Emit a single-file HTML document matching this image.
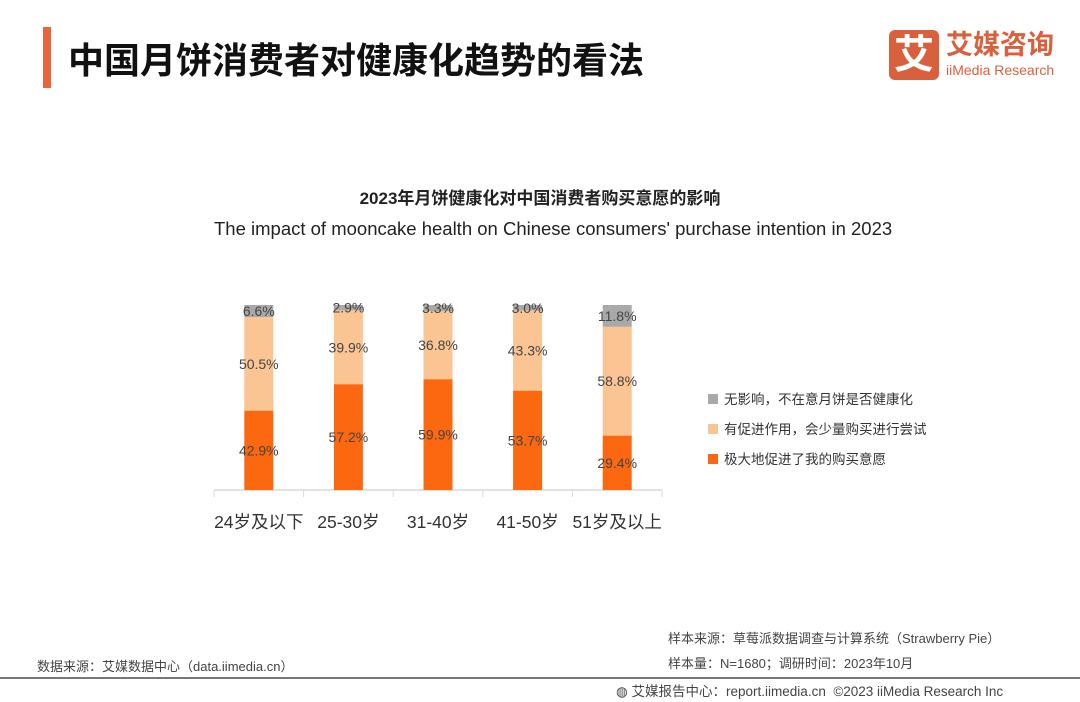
<!DOCTYPE html>
<html><head><meta charset="utf-8"><style>
body{margin:0;width:1080px;height:702px;background:#fff;overflow:hidden;font-family:"Liberation Sans","Noto Sans CJK SC",sans-serif;position:relative}
.abs{position:absolute;white-space:nowrap}
</style></head><body>
<div class="abs" style="left:43px;top:27px;width:8px;height:61px;background:#e8643a"></div>
<div class="abs" style="left:68px;top:32px;font-size:36px;font-weight:bold;color:#111">中国月饼消费者对健康化趋势的看法</div>
<div class="abs" style="left:889px;top:30px;width:50px;height:50px;background:#d9603c;border-radius:6px;color:#fff;font-size:40px;font-weight:bold;text-align:center;line-height:50px">艾</div>
<div class="abs" style="left:946px;top:30px;font-size:27px;font-weight:bold;color:#d9603c;line-height:30px">艾媒咨询</div>
<div class="abs" style="left:946px;top:62px;font-size:14px;color:#d9603c">iiMedia Research</div>
<div class="abs" style="left:0;width:1080px;text-align:center;top:184px;font-size:17px;font-weight:bold;color:#222">2023年月饼健康化对中国消费者购买意愿的影响</div>
<div class="abs" style="left:214px;top:218px;font-size:18.5px;color:#222">The impact of mooncake health on Chinese consumers' purchase intention in 2023</div>
<svg id="chart" class="abs" style="left:0;top:0" width="1080" height="702"></svg>
<div class="abs" style="left:37px;top:656px;font-size:13px;color:#444">数据来源：艾媒数据中心（data.iimedia.cn）</div>
<div class="abs" style="left:668px;top:628px;font-size:13px;color:#444">样本来源：草莓派数据调查与计算系统（Strawberry Pie）</div>
<div class="abs" style="left:668px;top:653px;font-size:13px;color:#444">样本量：N=1680；调研时间：2023年10月</div>
<div class="abs" style="left:0;top:677px;width:1080px;height:2px;background:#777"></div>
<div class="abs" style="left:616px;top:680px;font-size:13.5px;color:#444">◍ 艾媒报告中心：report.iimedia.cn &nbsp;©2023 iiMedia Research Inc</div>
<script>
const categories=["24岁及以下","25-30岁","31-40岁","41-50岁","51岁及以上"];
const greatly=[42.9,57.2,59.9,53.7,29.4];
const somewhat=[50.5,39.9,36.8,43.3,58.8];
const noEffect=[6.6,2.9,3.3,3.0,11.8];
const seriesNames=["无影响，不在意月饼是否健康化","有促进作用，会少量购买进行尝试","极大地促进了我的购买意愿"];
const colors=["#a9a9a9","#fbc593","#fb680f"];
const svg=document.getElementById('chart');const NS='http://www.w3.org/2000/svg';
const x0=214,band=89.6,barW=29,yBase=490,plotH=185;
const y=v=>yBase-v/100*plotH;
function mk(t,a){const e=document.createElementNS(NS,t);for(const k in a)e.setAttribute(k,a[k]);svg.appendChild(e);return e;}
const ax=mk('line',{x1:x0,x2:x0+band*5,y1:yBase,y2:yBase,stroke:'#d9d9d9','stroke-width':1.5});

categories.forEach((c,i)=>{
 const cx=x0+band*(i+0.5);
 const segs=[[greatly[i],colors[2],'greatly'],[somewhat[i],colors[1],'somewhat'],[noEffect[i],colors[0],'no-effect']];
 let acc=0;
 segs.forEach(([v,col,n])=>{
  const r=mk('rect',{x:cx-barW/2,y:y(acc+v),width:barW,height:y(acc)-y(acc+v),fill:col});
  
  const t=mk('text',{x:cx,y:(y(acc)+y(acc+v))/2+5,'text-anchor':'middle','font-size':14,fill:'#444'});
  t.textContent=v.toFixed(1)+'%';
  
  acc+=v;
 });
 const tk=mk('line',{x1:x0+band*i,x2:x0+band*i,y1:yBase,y2:yBase+7,stroke:'#d9d9d9'});
 
 const l=mk('text',{x:cx,y:528,'text-anchor':'middle','font-size':17.5,fill:'#333'});
 l.textContent=c;
});
const tk=mk('line',{x1:x0+band*5,x2:x0+band*5,y1:yBase,y2:yBase+7,stroke:'#d9d9d9'});

seriesNames.forEach((n,i)=>{
 const ly=400+i*30;
 const r=mk('rect',{x:708,y:ly-6,width:10,height:10,fill:colors[i]});
 
 const t=mk('text',{x:724,y:ly+4,'font-size':13.5,fill:'#333'});
 t.textContent=n;
});
</script>
</body></html>
